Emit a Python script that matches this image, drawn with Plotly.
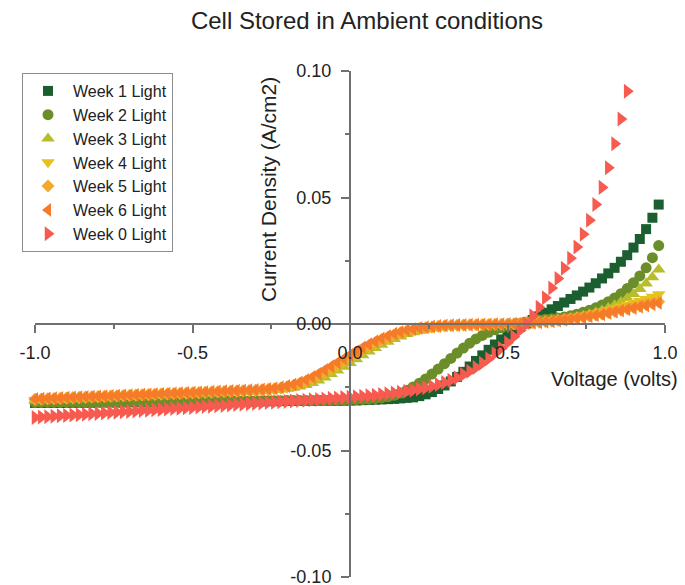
import plotly.graph_objects as go

# Voltage sweep (V), 0.02 V steps
voltage = [
    -1.00, -0.98, -0.96, -0.94, -0.92, -0.90, -0.88, -0.86, -0.84, -0.82,
    -0.80, -0.78, -0.76, -0.74, -0.72, -0.70, -0.68, -0.66, -0.64, -0.62,
    -0.60, -0.58, -0.56, -0.54, -0.52, -0.50, -0.48, -0.46, -0.44, -0.42,
    -0.40, -0.38, -0.36, -0.34, -0.32, -0.30, -0.28, -0.26, -0.24, -0.22,
    -0.20, -0.18, -0.16, -0.14, -0.12, -0.10, -0.08, -0.06, -0.04, -0.02,
    0.00, 0.02, 0.04, 0.06, 0.08, 0.10, 0.12, 0.14, 0.16, 0.18,
    0.20, 0.22, 0.24, 0.26, 0.28, 0.30, 0.32, 0.34, 0.36, 0.38,
    0.40, 0.42, 0.44, 0.46, 0.48, 0.50, 0.52, 0.54, 0.56, 0.58,
    0.60, 0.62, 0.64, 0.66, 0.68, 0.70, 0.72, 0.74, 0.76, 0.78,
    0.80, 0.82, 0.84, 0.86, 0.88, 0.90, 0.92, 0.94, 0.96, 0.98,
]

# Current density (A/cm2) under illumination, one list per week of storage
week1 = [
    -0.0312, -0.0312, -0.0312, -0.0312, -0.0312, -0.0311, -0.0311, -0.0311, -0.0311, -0.0311,
    -0.0310, -0.0310, -0.0310, -0.0310, -0.0310, -0.0309, -0.0309, -0.0309, -0.0309, -0.0309,
    -0.0308, -0.0308, -0.0308, -0.0308, -0.0308, -0.0307, -0.0307, -0.0307, -0.0307, -0.0307,
    -0.0306, -0.0306, -0.0306, -0.0306, -0.0306, -0.0305, -0.0305, -0.0305, -0.0305, -0.0305,
    -0.0304, -0.0304, -0.0304, -0.0304, -0.0304, -0.0303, -0.0303, -0.0303, -0.0303, -0.0303,
    -0.0302, -0.0302, -0.0301, -0.0300, -0.0299, -0.0298, -0.0297, -0.0296, -0.0294, -0.0292,
    -0.0290, -0.0285, -0.0278, -0.0269, -0.0257, -0.0243, -0.0227, -0.0209, -0.0189, -0.0168,
    -0.0146, -0.0124, -0.0102, -0.0081, -0.0061, -0.0043, -0.0027, -0.0012, 0.0002, 0.0016,
    0.0030, 0.0044, 0.0058, 0.0071, 0.0085, 0.0099, 0.0113, 0.0128, 0.0144, 0.0161,
    0.0180, 0.0200, 0.0222, 0.0246, 0.0272, 0.0302, 0.0336, 0.0375, 0.0420, 0.0472,
]
week2 = [
    -0.0310, -0.0310, -0.0310, -0.0310, -0.0310, -0.0309, -0.0309, -0.0309, -0.0309, -0.0309,
    -0.0308, -0.0308, -0.0308, -0.0308, -0.0308, -0.0307, -0.0307, -0.0307, -0.0307, -0.0307,
    -0.0306, -0.0306, -0.0306, -0.0306, -0.0306, -0.0305, -0.0305, -0.0305, -0.0305, -0.0305,
    -0.0304, -0.0304, -0.0304, -0.0304, -0.0304, -0.0303, -0.0303, -0.0303, -0.0303, -0.0303,
    -0.0302, -0.0302, -0.0302, -0.0302, -0.0302, -0.0301, -0.0301, -0.0301, -0.0301, -0.0301,
    -0.0300, -0.0299, -0.0298, -0.0297, -0.0295, -0.0292, -0.0288, -0.0282, -0.0273, -0.0262,
    -0.0249, -0.0234, -0.0217, -0.0198, -0.0178, -0.0157, -0.0136, -0.0115, -0.0095, -0.0076,
    -0.0059, -0.0045, -0.0033, -0.0023, -0.0015, -0.0008, -0.0002, 0.0003, 0.0008, 0.0013,
    0.0016, 0.0019, 0.0021, 0.0024, 0.0028, 0.0033, 0.0039, 0.0046, 0.0054, 0.0064,
    0.0075, 0.0088, 0.0103, 0.0120, 0.0140, 0.0163, 0.0190, 0.0222, 0.0262, 0.0310,
]
week3 = [
    -0.0302, -0.0301, -0.0300, -0.0299, -0.0298, -0.0297, -0.0296, -0.0295, -0.0294, -0.0293,
    -0.0292, -0.0291, -0.0290, -0.0289, -0.0288, -0.0287, -0.0286, -0.0285, -0.0284, -0.0283,
    -0.0282, -0.0281, -0.0280, -0.0279, -0.0278, -0.0277, -0.0276, -0.0275, -0.0274, -0.0273,
    -0.0272, -0.0271, -0.0270, -0.0269, -0.0268, -0.0267, -0.0265, -0.0263, -0.0261, -0.0259,
    -0.0256, -0.0252, -0.0247, -0.0241, -0.0233, -0.0223, -0.0211, -0.0198, -0.0184, -0.0169,
    -0.0154, -0.0139, -0.0124, -0.0109, -0.0095, -0.0082, -0.0070, -0.0059, -0.0049, -0.0040,
    -0.0033, -0.0027, -0.0022, -0.0018, -0.0015, -0.0012, -0.0010, -0.0008, -0.0007, -0.0006,
    -0.0005, -0.0004, -0.0003, -0.0002, -0.0001, 0.0000, 0.0001, 0.0002, 0.0003, 0.0005,
    0.0007, 0.0009, 0.0012, 0.0015, 0.0018, 0.0022, 0.0027, 0.0032, 0.0038, 0.0045,
    0.0053, 0.0063, 0.0074, 0.0087, 0.0102, 0.0119, 0.0138, 0.0160, 0.0185, 0.0215,
]
week4 = [
    -0.0300, -0.0299, -0.0298, -0.0297, -0.0296, -0.0295, -0.0294, -0.0293, -0.0292, -0.0291,
    -0.0290, -0.0289, -0.0288, -0.0287, -0.0286, -0.0285, -0.0284, -0.0283, -0.0282, -0.0281,
    -0.0280, -0.0279, -0.0278, -0.0277, -0.0276, -0.0275, -0.0274, -0.0273, -0.0272, -0.0271,
    -0.0270, -0.0269, -0.0268, -0.0267, -0.0266, -0.0265, -0.0263, -0.0261, -0.0258, -0.0255,
    -0.0251, -0.0246, -0.0239, -0.0230, -0.0220, -0.0208, -0.0195, -0.0181, -0.0166, -0.0151,
    -0.0136, -0.0121, -0.0107, -0.0093, -0.0080, -0.0068, -0.0057, -0.0047, -0.0039, -0.0032,
    -0.0026, -0.0021, -0.0017, -0.0014, -0.0011, -0.0009, -0.0007, -0.0006, -0.0005, -0.0004,
    -0.0003, -0.0003, -0.0002, -0.0001, -0.0001, 0.0000, 0.0001, 0.0003, 0.0005, 0.0007,
    0.0009, 0.0012, 0.0015, 0.0018, 0.0021, 0.0025, 0.0029, 0.0033, 0.0038, 0.0043,
    0.0049, 0.0055, 0.0061, 0.0068, 0.0075, 0.0083, 0.0091, 0.0099, 0.0108, 0.0118,
]
week5 = [
    -0.0297, -0.0296, -0.0295, -0.0294, -0.0293, -0.0292, -0.0291, -0.0290, -0.0289, -0.0288,
    -0.0287, -0.0286, -0.0285, -0.0284, -0.0283, -0.0282, -0.0281, -0.0280, -0.0279, -0.0278,
    -0.0277, -0.0276, -0.0275, -0.0274, -0.0273, -0.0272, -0.0271, -0.0270, -0.0269, -0.0268,
    -0.0267, -0.0266, -0.0265, -0.0264, -0.0263, -0.0262, -0.0260, -0.0258, -0.0256, -0.0253,
    -0.0248, -0.0243, -0.0235, -0.0226, -0.0215, -0.0202, -0.0188, -0.0174, -0.0159, -0.0144,
    -0.0129, -0.0114, -0.0100, -0.0086, -0.0074, -0.0062, -0.0052, -0.0043, -0.0035, -0.0028,
    -0.0023, -0.0018, -0.0015, -0.0012, -0.0009, -0.0007, -0.0006, -0.0005, -0.0004, -0.0003,
    -0.0003, -0.0002, -0.0002, -0.0001, -0.0001, 0.0000, 0.0001, 0.0002, 0.0004, 0.0005,
    0.0007, 0.0010, 0.0012, 0.0015, 0.0018, 0.0021, 0.0024, 0.0028, 0.0032, 0.0036,
    0.0040, 0.0045, 0.0050, 0.0055, 0.0060, 0.0066, 0.0071, 0.0077, 0.0082, 0.0088,
]
week6 = [
    -0.0296, -0.0295, -0.0294, -0.0293, -0.0292, -0.0291, -0.0290, -0.0289, -0.0288, -0.0287,
    -0.0286, -0.0285, -0.0284, -0.0283, -0.0282, -0.0281, -0.0280, -0.0279, -0.0278, -0.0277,
    -0.0276, -0.0275, -0.0274, -0.0273, -0.0272, -0.0271, -0.0270, -0.0269, -0.0268, -0.0267,
    -0.0266, -0.0265, -0.0264, -0.0263, -0.0262, -0.0261, -0.0259, -0.0257, -0.0254, -0.0250,
    -0.0245, -0.0239, -0.0231, -0.0221, -0.0209, -0.0196, -0.0182, -0.0167, -0.0152, -0.0137,
    -0.0122, -0.0107, -0.0093, -0.0080, -0.0068, -0.0057, -0.0047, -0.0038, -0.0031, -0.0025,
    -0.0020, -0.0016, -0.0013, -0.0010, -0.0008, -0.0006, -0.0005, -0.0004, -0.0004, -0.0003,
    -0.0003, -0.0002, -0.0002, -0.0001, -0.0001, 0.0000, 0.0001, 0.0002, 0.0003, 0.0005,
    0.0007, 0.0009, 0.0011, 0.0014, 0.0017, 0.0020, 0.0023, 0.0026, 0.0030, 0.0034,
    0.0038, 0.0043, 0.0048, 0.0053, 0.0058, 0.0063, 0.0068, 0.0073, 0.0078, 0.0083,
]
# Fresh cell: above 0.88 V the current runs off the top of the axis
week0 = [
    -0.0370, -0.0368, -0.0367, -0.0365, -0.0363, -0.0362, -0.0360, -0.0359, -0.0357, -0.0355,
    -0.0354, -0.0352, -0.0350, -0.0349, -0.0347, -0.0346, -0.0344, -0.0342, -0.0341, -0.0339,
    -0.0338, -0.0336, -0.0334, -0.0333, -0.0331, -0.0330, -0.0328, -0.0326, -0.0325, -0.0323,
    -0.0322, -0.0320, -0.0318, -0.0317, -0.0315, -0.0314, -0.0312, -0.0310, -0.0309, -0.0307,
    -0.0306, -0.0304, -0.0302, -0.0301, -0.0299, -0.0298, -0.0296, -0.0294, -0.0293, -0.0291,
    -0.0290, -0.0288, -0.0286, -0.0284, -0.0282, -0.0279, -0.0276, -0.0273, -0.0270, -0.0266,
    -0.0262, -0.0257, -0.0252, -0.0246, -0.0239, -0.0231, -0.0222, -0.0212, -0.0200, -0.0187,
    -0.0172, -0.0155, -0.0137, -0.0117, -0.0096, -0.0074, -0.0050, -0.0025, 0.0000, 0.0033,
    0.0066, 0.0104, 0.0142, 0.0180, 0.0220, 0.0260, 0.0304, 0.0355, 0.0410, 0.0472,
    0.0540, 0.0618, 0.0712, 0.0810, 0.0920,
]

series_names = ["Week 1 Light", "Week 2 Light", "Week 3 Light", "Week 4 Light",
                "Week 5 Light", "Week 6 Light", "Week 0 Light"]
series_values = [week1, week2, week3, week4, week5, week6, week0]
series_colors = ["#1b5e2f", "#6b8e2a", "#b8bd2c", "#e6c21e", "#f2aa2c", "#f57b2a", "#f75a4f"]
series_symbols = ["square", "circle", "triangle-up", "triangle-down",
                  "diamond", "triangle-left", "triangle-right"]
series_sizes = [10, 11, 12, 12, 10, 12, 13]

x_tick_vals = [-1.0, -0.5, 0.0, 0.5, 1.0]
x_tick_text = ["-1.0", "-0.5", "0.0", "0.5", "1.0"]
x_minor_vals = [-0.75, -0.25, 0.25, 0.75]
y_tick_vals = [-0.10, -0.05, 0.00, 0.05, 0.10]
y_tick_text = ["-0.10", "-0.05", "0.00", "0.05", "0.10"]
y_minor_vals = [-0.075, -0.025, 0.025, 0.075]

FONT = "Liberation Sans, Arial, sans-serif"
AXIS_GREY = "#707070"
TEXT = "#222222"

# Figure geometry in pixels: the plotting region spans x 22..665, the data
# window starts 13 px in so the legend can sit at the region's left edge.
W, H = 685, 585
M_L, M_R, M_T, M_B = 22, 20, 71, 8
PLOT_W = W - M_L - M_R
PLOT_H = H - M_T - M_B
X_DOMAIN_START = 13 / PLOT_W


def px_to_paper_x(px):
    return (px - M_L) / PLOT_W


def px_to_paper_y(py):
    return (H - M_B - py) / PLOT_H


fig = go.Figure()
for name, vals, color, symbol, size in zip(series_names, series_values, series_colors,
                                           series_symbols, series_sizes):
    fig.add_trace(go.Scatter(
        x=voltage[:len(vals)], y=vals, name=name, mode="markers",
        marker=dict(symbol=symbol, color=color, size=size, line=dict(width=0)),
        cliponaxis=False,
    ))

axis_common = dict(
    anchor="free",
    showline=True, linecolor=AXIS_GREY, linewidth=2,
    ticks="outside", ticklen=8, tickwidth=1.5, tickcolor=AXIS_GREY,
    tickmode="array", ticklabeloverflow="allow", automargin=False,
    showgrid=False, zeroline=False,
    tickfont=dict(family=FONT, size=18, color=TEXT),
)

fig.update_layout(
    width=W, height=H,
    margin=dict(l=M_L, r=M_R, t=M_T, b=M_B, autoexpand=False),
    plot_bgcolor="white", paper_bgcolor="white",
    font=dict(family=FONT, color=TEXT),
    title=dict(text="Cell Stored in Ambient conditions", x=367 / W, xref="container",
               xanchor="center", y=1 - 21 / H, yref="container", yanchor="middle",
               font=dict(family=FONT, size=24, color=TEXT)),
    xaxis=dict(range=[-1, 1], domain=[X_DOMAIN_START, 1], position=0.5,
               tickvals=x_tick_vals, ticktext=x_tick_text,
               ticklabelstandoff=4,
               minor=dict(tickvals=x_minor_vals, ticks="outside", ticklen=4,
                          tickwidth=1.5, tickcolor=AXIS_GREY, showgrid=False),
               **axis_common),
    yaxis=dict(range=[-0.1, 0.1], domain=[0, 1], position=px_to_paper_x(350),
               tickvals=y_tick_vals, ticktext=y_tick_text,
               ticklabelstandoff=6,
               minor=dict(tickvals=y_minor_vals, ticks="outside", ticklen=4,
                          tickwidth=1.5, tickcolor=AXIS_GREY, showgrid=False),
               **axis_common),
    legend=dict(x=0, y=px_to_paper_y(73), xanchor="left", yanchor="top",
                bgcolor="white", bordercolor="#8c8c8c", borderwidth=1, itemwidth=40,
                font=dict(family=FONT, size=16, color=TEXT)),
    annotations=[
        dict(text="Voltage (volts)", xref="paper", yref="paper",
             x=px_to_paper_x(614), y=px_to_paper_y(379), xanchor="center", yanchor="middle",
             showarrow=False, font=dict(family=FONT, size=20, color=TEXT)),
        dict(text="Current Density (A/cm2)", xref="paper", yref="paper",
             x=px_to_paper_x(268), y=px_to_paper_y(190), xanchor="center", yanchor="middle",
             textangle=-90, showarrow=False,
             font=dict(family=FONT, size=21, color=TEXT)),
    ],
)

fig.write_html("out.html")
